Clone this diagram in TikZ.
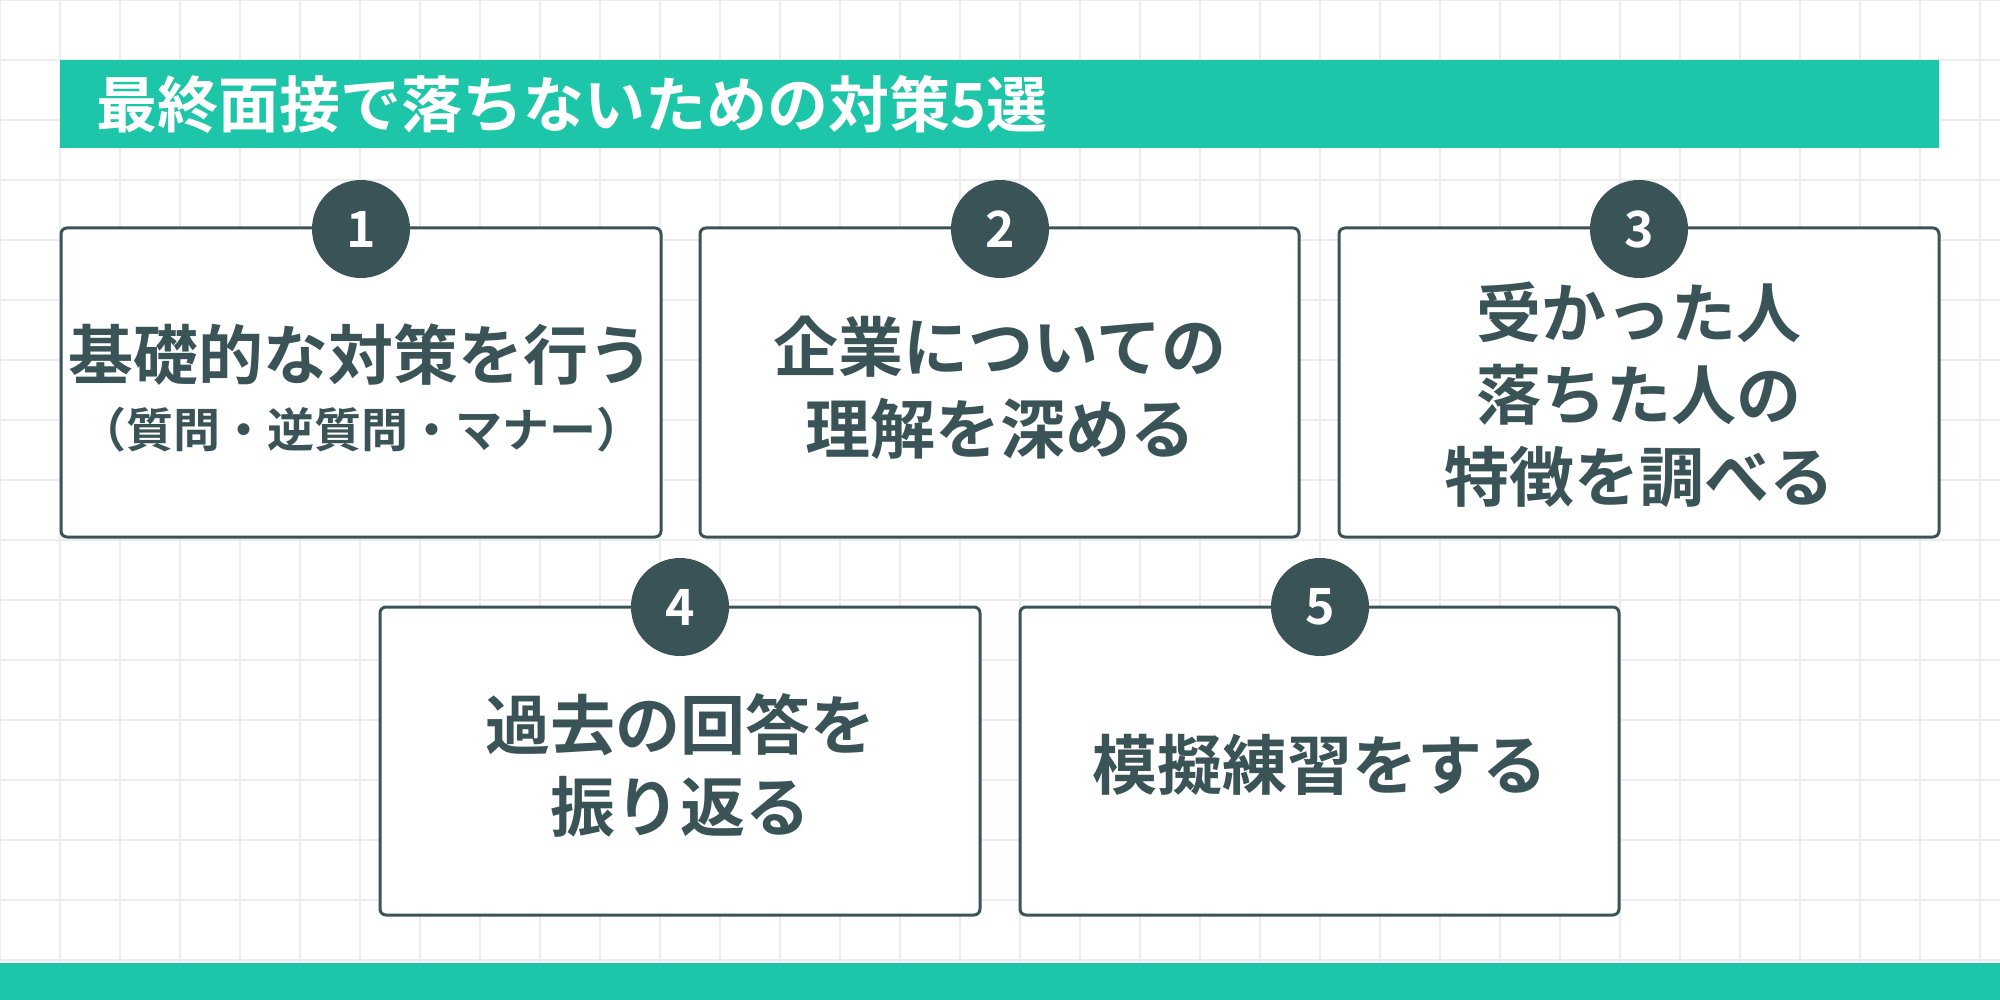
\documentclass[tikz,border=0pt]{standalone}
\usepackage{fontspec}
\setmainfont{Noto Sans CJK JP}[BoldFont={* Bold}]
\definecolor{teal}{HTML}{1DC6A8}
\definecolor{dark}{HTML}{3A5357}
\definecolor{gridc}{HTML}{ECECEC}
\begin{document}
\begin{tikzpicture}[x=1pt,y=-1pt,
  card/.style={draw=dark,line width=3pt,rounded corners=6pt,fill=white},
  num/.style={circle,fill=dark,minimum size=98pt,inner sep=0pt,text=white,font=\fontsize{50}{54}\selectfont\bfseries},
  lbl/.style={align=center,text=dark,font=\fontsize{65}{82}\selectfont\bfseries}]
\useasboundingbox (0,0) rectangle (2000,1000);
\fill[white] (0,0) rectangle (2000,1000);
\foreach \i in {0,60,...,2000} \draw[gridc,line width=1.5pt] (\i,0) -- (\i,1000);
\foreach \i in {0,60,...,1000} \draw[gridc,line width=1.5pt] (0,\i) -- (2000,\i);
\fill[teal] (60,60) rectangle (1939,148);
\node[anchor=west,text=white,font=\fontsize{61}{66}\selectfont\bfseries,inner sep=0pt] (title) at (96,104) {最終面接で落ちないための対策5選};
\fill[teal] (0,963) rectangle (2000,1000);
\draw[card] (61,228) rectangle (661,537);
\draw[card] (700,228) rectangle (1299,537);
\draw[card] (1339,228) rectangle (1939,537);
\draw[card] (380,607) rectangle (980,915);
\draw[card] (1020,607) rectangle (1619,915);
\node[num] (n1) at (361,229) {1};
\node[num] (n2) at (1000,229) {2};
\node[num] (n3) at (1639,229) {3};
\node[num] (n4) at (680,607) {4};
\node[num] (n5) at (1320,607) {5};
\node[lbl] (t1) at (361,388) {基礎的な対策を行う\\[-14pt]{\fontsize{47}{60}\selectfont （質問・逆質問・マナー）}};
\node[lbl] (t2) at (1000,388) {企業についての\\理解を深める};
\node[lbl] (t3) at (1639,395) {受かった人\\落ちた人の\\特徴を調べる};
\node[lbl] (t4) at (680,765) {過去の回答を\\振り返る};
\node[lbl] (t5) at (1320,765) {模擬練習をする};
\end{tikzpicture}
\end{document}
